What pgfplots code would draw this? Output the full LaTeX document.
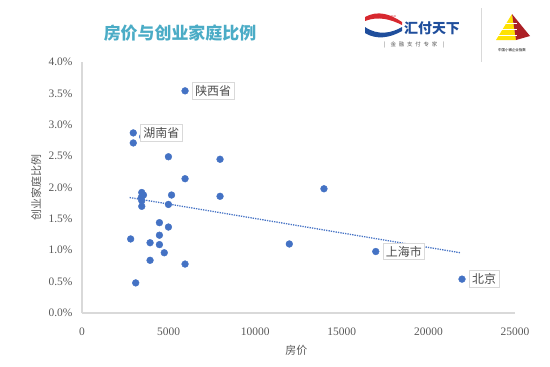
\documentclass[border=0pt]{standalone}
\usepackage{pgfplots}
\pgfplotsset{compat=1.18}
\usepackage{fontspec}
\setmainfont{Liberation Serif}
\newfontfamily\cjk{Noto Sans CJK SC}
\definecolor{ptblue}{HTML}{4472C4}
\definecolor{axgray}{HTML}{D9D9D9}
\definecolor{txtgray}{HTML}{595959}
\definecolor{titleblue}{HTML}{4BACC6}
\definecolor{logored}{HTML}{D7282F}
\definecolor{logoblue}{HTML}{1F4E9C}
\begin{document}
\begin{tikzpicture}
\begin{axis}[
  scale only axis, width=433bp, height=251bp,
  xmin=0, xmax=25000, ymin=0, ymax=4,
  axis x line*=bottom, axis y line*=left,
  axis line style={axgray,line width=1.3bp,-},
  xtick={0,5000,10000,15000,20000,25000},
  xticklabels={0,5000,10000,15000,20000,25000},
  ytick={0,0.5,1,1.5,2,2.5,3,3.5,4},
  yticklabels={0.0\%,0.5\%,1.0\%,1.5\%,2.0\%,2.5\%,3.0\%,3.5\%,4.0\%},
  scaled x ticks=false,
  major tick length=0,
  tick label style={font={\fontsize{11.5}{13}\selectfont},text=txtgray},
  xticklabel style={yshift=-11bp},
  yticklabel style={xshift=-6bp},
  xlabel={房价}, ylabel={创业家庭比例},
  label style={font={\cjk\fontsize{11}{13}\selectfont},text=txtgray},
  xlabel style={at={(axis description cs:0.495,-0.147)},anchor=center},
  ylabel style={at={(axis description cs:-0.106,0.5)},anchor=center},
  clip=false,
]
\addplot[ptblue, line width=1.3bp, dash pattern=on 1.3bp off 1.1bp] coordinates {(2750,1.84) (21850,0.96)};
\addplot[only marks, mark=*, mark size=3.4bp, ptblue, mark options={draw=ptblue,fill=ptblue}] coordinates {
(3500,2.81) (2960,2.71) (4990,2.49) (7970,2.45) (5950,2.14) (13970,1.98)
(3450,1.92) (3550,1.88) (3420,1.84) (3450,1.79) (3450,1.70)
(5170,1.88) (7970,1.86) (4990,1.73) (4470,1.44) (4990,1.37)
(2810,1.18) (4470,1.24) (3930,1.12) (4470,1.09) (11970,1.10)
(4750,0.96) (3930,0.84) (5950,0.78) (3100,0.48)
};
\addplot[only marks, mark=*, mark size=3.4bp, ptblue, mark options={draw=ptblue,fill=ptblue},
  point meta=explicit symbolic,
  nodes near coords,
  every node near coord/.style={anchor=west, xshift=7bp, font={\cjk\fontsize{12}{14}\selectfont}, text=black!70, fill=white, draw=axgray, line width=0.8bp, inner sep=2.8bp}]
 table[meta=lab] {
x y lab
5950 3.54 陕西省
2960 2.87 湖南省
16960 0.98 上海市
21940 0.54 北京
};
\end{axis}
\begin{scope}[x=1bp,y=1bp,shift={(-82bp,-53bp)}]
\path[use as bounding box] (0,0) rectangle (550,366);
% title
\node[font={\cjk\bfseries\fontsize{17}{20}\selectfont},text=titleblue] at (180,333) {房价与创业家庭比例};
% logo (decoration)
\fill[logored] (365,349) .. controls (378,356) and (390,352) .. (402,344) -- (402,341) .. controls (390,347) and (378,350) .. (365,345) -- cycle;
\fill[logoblue] (365,339) .. controls (378,330) and (392,333) .. (402,339) -- (402,335) .. controls (390,328) and (376,326) .. (365,333) -- cycle;
\node[font={\fontsize{3}{3}\selectfont},text=logored] at (390,350) {ChinaPnR};
\node[font={\cjk\bfseries\fontsize{14}{16}\selectfont},text=logoblue] at (432,338) {汇付天下};
\node[font={\cjk\fontsize{5.5}{6}\selectfont},text=txtgray] at (414,321) {|\quad 金\enspace 融\enspace 支\enspace 付\enspace 专\enspace 家\quad |};
\draw[axgray,line width=0.8] (481,358) -- (481,304);
\fill[yellow!85!orange] (512,352) -- (496,326) -- (516,326) -- cycle;
\fill[logored!80!black] (512,352) -- (516,326) -- (530,330) -- cycle;
\foreach \yy in {331,337,343} {\draw[white,line width=0.6] (496,\yy) -- (517,\yy);}
\node[font={\cjk\fontsize{3.5}{4}\selectfont},text=black] at (512,316) {中国小微企业指数};
\end{scope}
\end{tikzpicture}
\end{document}
